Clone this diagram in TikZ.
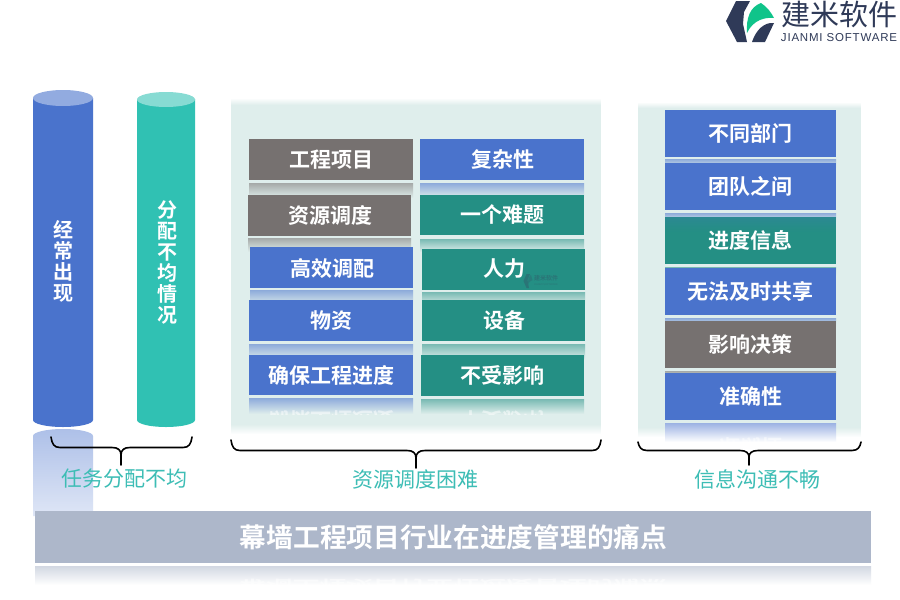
\documentclass[tikz,border=0pt]{standalone}
\usepackage{fontspec}
\setmainfont{Noto Sans CJK SC}[BoldFont={Noto Sans CJK SC Bold}]
\newfontfamily\latinfont{Liberation Sans}
\newfontfamily\logolatin{Liberation Sans}[LetterSpace=7]
\usetikzlibrary{fadings,shadings}
\definecolor{blueb}{HTML}{4A73CC}
\definecolor{greenb}{HTML}{248F84}
\definecolor{grayb}{HTML}{767170}
\definecolor{tealc}{HTML}{30C1B3}
\definecolor{panelc}{HTML}{DFEEEC}
\definecolor{bannerc}{HTML}{ADB7CA}
\definecolor{labelc}{HTML}{3DBDB5}
\definecolor{navy}{HTML}{2F3A58}
\definecolor{leaf}{HTML}{10C48A}
\definecolor{wmark}{HTML}{2C6F74}
\tikzset{
  x=1pt,y=-1pt,
  txt/.style={text=white,font=\fontsize{21}{21}\selectfont\bfseries,inner sep=0pt},
  vtxt/.style={text=white,font=\fontsize{20}{21}\selectfont\bfseries,inner sep=0pt,align=center},
  lab/.style={text=labelc,font=\fontsize{21}{21}\selectfont,inner sep=0pt},
  brace/.style={draw=black,line width=1.6pt,line cap=round,line join=round},
}
\tikzfading[name=tintdown,top color=transparent!80,bottom color=transparent!100]
\tikzfading[name=edgein,top color=transparent!100,bottom color=transparent!0]
\tikzfading[name=edgeout,top color=transparent!0,bottom color=transparent!100]
\newcommand{\rbox}[6]{%
  \path[fill=#6] (#2,#3) rectangle (#4,#5);
  \coordinate (#1) at ({(#2+#4)/2},{(#3+#5)/2});
}
\newcommand{\reflbar}[6][panelc]{%
  \path[top color=#6!55!#1,bottom color=#1] (#2,#3) rectangle (#4,#5);
}
\newcommand{\mirror}[7]{%
  \begin{scope}
    \clip (#1,#2) rectangle (#3,#4);
    \node[yscale=#7,inner sep=0pt,text=white,opacity=.5,font=\fontsize{#6}{#6}\selectfont\bfseries] at ({(#1+#3)/2},#5) {\mirrortext};
  \end{scope}
}
\newcommand{\mirrortext}{}
\begin{document}
\begin{tikzpicture}
\useasboundingbox (0,0) rectangle (900,600);
\fill[white] (0,0) rectangle (900,600);

% cylinder reflection
\path[top color=blueb!45!white,bottom color=blueb!18!white]
  (33,436) arc[x radius=30,y radius=7,start angle=180,end angle=360] -- (93,516) -- (33,516) -- cycle;

% cylinders
\path[fill=blueb] (33,98) -- (33,420) arc[x radius=30,y radius=7,start angle=180,end angle=0] -- (93,98) -- cycle;
\path[fill=blueb!60!white] (63,98) ellipse[x radius=30,y radius=8];
\path[fill=tealc] (137,99) -- (137,420) arc[x radius=29,y radius=7,start angle=180,end angle=0] -- (195,99) -- cycle;
\path[fill=tealc!58!white] (166,99.5) ellipse[x radius=29,y radius=7.5];
\node[vtxt] (c1) at (63.5,261.5) {经\\常\\出\\现};
\node[vtxt] (c2) at (167,263) {分\\配\\不\\均\\情\\况};

% panels
\path[fill=panelc] (231,105) rectangle (601,424);
\path[fill=panelc,path fading=edgein] (231,98) rectangle (601,105);
\path[fill=panelc,path fading=edgeout] (231,424) rectangle (601,434);
\path[fill=panelc] (638,108) rectangle (861,427);
\path[fill=panelc,path fading=edgein] (638,102) rectangle (861,108);
\path[fill=panelc,path fading=edgeout] (638,427) rectangle (861,437);

% reflections, middle panel
\reflbar{249}{183}{413}{198}{grayb}
\reflbar{420}{183}{584}{198}{blueb}
\reflbar{248}{238}{411}{252}{grayb}
\reflbar{420}{239}{584}{252}{greenb}
\reflbar{250}{290}{413}{306}{blueb}
\reflbar{422}{292}{585}{306}{greenb}
\reflbar{249}{344}{413}{360}{blueb}
\reflbar{422}{344}{585}{360}{greenb}
\reflbar{249}{398}{413}{414}{blueb}
\reflbar{421}{399}{584}{414}{greenb}
\renewcommand{\mirrortext}{确保工程进度}\mirror{249}{398}{413}{414}{421}{21}{-1}
\renewcommand{\mirrortext}{不受影响}\mirror{421}{399}{584}{414}{421}{21}{-1}

% boxes, middle panel
\rbox{m1}{249}{139}{413}{180}{grayb}
\rbox{m2}{420}{139}{584}{180}{blueb}
\rbox{m3}{248}{195}{411}{236}{grayb}
\rbox{m4}{420}{195}{584}{235}{greenb}
\rbox{m5}{250}{247}{413}{288}{blueb}
\rbox{m6}{422}{249}{585}{290}{greenb}
\rbox{m7}{249}{300}{413}{341}{blueb}
\rbox{m8}{422}{300}{585}{341}{greenb}
\rbox{m9}{249}{355}{413}{395}{blueb}
\rbox{m10}{421}{355}{584}{396}{greenb}
\node[txt] at (331,160) {工程项目};
\node[txt] at (502.5,160) {复杂性};
\node[txt] at (330,215.5) {资源调度};
\node[txt] at (502.5,215) {一个难题};
\node[txt] at (332,268) {高效调配};
\node[txt] at (504,269) {人力};
\node[txt] at (331,320.5) {物资};
\node[txt] at (504,320.5) {设备};
\node[txt] at (331,375) {确保工程进度};
\node[txt] at (502.5,375.5) {不受影响};

% watermark
\path[fill=wmark,opacity=.8] (523.5,281) -- (526.5,274) -- (530,274) -- (527.5,280) -- (529,288) -- (526.5,288) -- cycle;
\path[fill=wmark!70!greenb,opacity=.8] (528,284) .. controls (528,279) and (529,276) .. (531,275) -- (532.5,280) .. controls (530.5,281) and (529,282) .. (528,284) -- cycle;
\node[inner sep=0pt,text=wmark,opacity=.85,font=\fontsize{6}{6}\selectfont\bfseries] (wm) at (546,278) {建米软件};
\node[inner sep=0pt,text=wmark,opacity=.7,font=\latinfont\fontsize{2.6}{2.6}\selectfont] (wm2) at (546,285) {JIANMI SOFTWARE};

% reflections, right panel
\reflbar{665}{159}{836}{168}{blueb}
\reflbar{665}{213}{836}{222}{blueb}
\reflbar{665}{267}{836}{276}{greenb}
\reflbar{665}{318}{836}{327}{blueb}
\reflbar{665}{371}{836}{380}{grayb}
\reflbar[white]{665}{423}{836}{442}{blueb}
\renewcommand{\mirrortext}{准确性}\mirror{665}{423}{836}{442}{447}{21}{-1}

% boxes, right panel
\rbox{r1}{665}{110}{836}{157}{blueb}
\rbox{r2}{665}{163}{836}{210}{blueb}
\rbox{r3}{665}{217}{836}{264}{greenb}
\path[fill=blueb,path fading=tintdown] (665,217) rectangle (836,232);
\rbox{r4}{665}{268}{836}{315}{blueb}
\rbox{r5}{665}{321}{836}{368}{grayb}
\rbox{r6}{665}{373}{836}{420}{blueb}
\node[txt] at (750.5,133.5) {不同部门};
\node[txt] at (750.5,186.5) {团队之间};
\node[txt] at (750.5,240.5) {进度信息};
\node[txt] at (750.5,291.5) {无法及时共享};
\node[txt] at (750.5,344.5) {影响决策};
\node[txt] at (750.5,396.5) {准确性};

% braces
\draw[brace] (51,437) .. controls (52,444) and (54,447.5) .. (60,447.5) -- (112,447.5) .. controls (118,447.5) and (121,450) .. (121,455) -- (121,465);
\draw[brace] (121,455) .. controls (121,450) and (124,447.5) .. (130,447.5) -- (183,447.5) .. controls (189,447.5) and (191,444) .. (192,437);
\draw[brace] (231,440) .. controls (232,447) and (234,450.5) .. (240,450.5) -- (407,450.5) .. controls (413,450.5) and (416,453) .. (416,458) -- (416,468);
\draw[brace] (416,458) .. controls (416,453) and (419,450.5) .. (425,450.5) -- (592,450.5) .. controls (598,450.5) and (600,447) .. (601,440);
\draw[brace] (638,442) .. controls (639,447) and (641,450.5) .. (647,450.5) -- (740,450.5) .. controls (746,450.5) and (749,453) .. (749,457) -- (749,465);
\draw[brace] (749,457) .. controls (749,453) and (752,450.5) .. (758,450.5) -- (852,450.5) .. controls (858,450.5) and (860,447) .. (861,442);

% brace labels
\node[lab] (l1) at (124.5,479) {任务分配不均};
\node[lab] (l2) at (415,479) {资源调度困难};
\node[lab] (l3) at (757,479) {信息沟通不畅};

% banner
\path[fill=bannerc] (35,511) rectangle (871,563);
\node[inner sep=0pt,text=white,font=\fontsize{26.7}{26.7}\selectfont\bfseries] (ban) at (453.5,537) {幕墙工程项目行业在进度管理的痛点};
\reflbar[white]{35}{566}{871}{585}{bannerc}
\renewcommand{\mirrortext}{幕墙工程项目行业在进度管理的痛点}\mirror{35}{566}{871}{585}{587}{26.7}{-.6}

% logo
\path[fill=navy] (726,21) -- (736,1) -- (750,1) -- (744,12) -- (743,24) -- (747,42) -- (737,42) -- cycle;
\path[fill=leaf] (747,33) .. controls (746,18) and (750,7) .. (761,3) .. controls (767,7) and (771,12) .. (774,18) .. controls (765,17) and (753,20) .. (747,33) -- cycle;
\path[fill=navy] (752,42) -- (765,42) -- (774,23) .. controls (764,22) and (756,30) .. (752,42) -- cycle;
\node[inner sep=0pt,text=navy,font=\fontsize{29}{29}\selectfont] (lg1) at (839.5,14) {建米软件};
\node[inner sep=0pt,text=navy,font=\logolatin\fontsize{11.5}{11.5}\selectfont] (lg2) at (839,38) {JIANMI SOFTWARE};
\end{tikzpicture}
\end{document}
